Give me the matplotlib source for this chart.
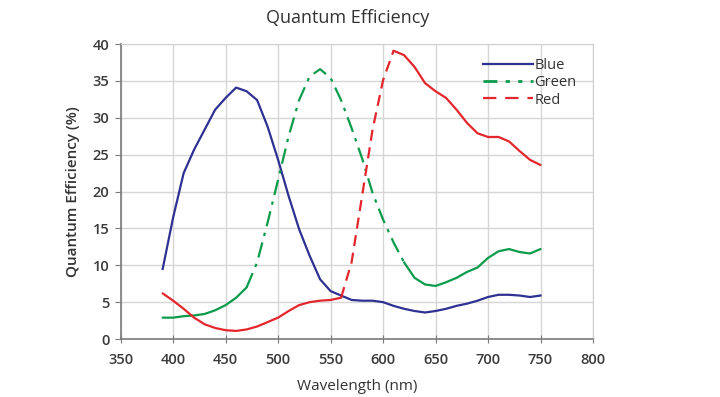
import matplotlib
matplotlib.use('Agg')
import matplotlib.pyplot as plt
from matplotlib.lines import Line2D
import numpy as np

plt.rcParams['font.family'] = ['Open Sans', 'DejaVu Sans']

# Wavelength sample points (nm)
wavelength = np.arange(390, 751, 10)

# Quantum efficiency (%)
blue = [9.5, 16.5, 22.5, 25.7, 28.4, 31.1, 32.7, 34.1, 33.6, 32.4,
        28.8, 24.3, 19.4, 14.9, 11.3, 8.1, 6.5, 5.9, 5.3, 5.2,
        5.2, 5.0, 4.5, 4.1, 3.8, 3.6, 3.8, 4.1, 4.5, 4.8,
        5.2, 5.7, 6.0, 6.0, 5.9, 5.7, 5.9]
green = [2.9, 2.9, 3.1, 3.2, 3.4, 3.9, 4.6, 5.6, 7.0, 10.4,
         15.8, 21.6, 27.5, 32.4, 35.6, 36.6, 35.4, 32.4, 28.6, 24.5,
         19.8, 16.2, 13.1, 10.4, 8.3, 7.4, 7.2, 7.7, 8.3, 9.1,
         9.7, 11.0, 11.9, 12.2, 11.8, 11.6, 12.2]
red = [6.2, 5.2, 4.1, 2.9, 2.0, 1.5, 1.2, 1.1, 1.3, 1.7,
       2.3, 2.9, 3.8, 4.6, 5.0, 5.2, 5.3, 5.6, 10.4, 19.4,
       28.4, 35.1, 39.1, 38.5, 36.9, 34.7, 33.6, 32.7, 31.1, 29.3,
       27.9, 27.4, 27.4, 26.8, 25.5, 24.3, 23.6]

# where the hand-drawn curves switch between solid and broken strokes
green_broken = (470, 620)
red_broken = (560, 610)

c_blue = '#2E3192'
c_green = '#0A9B4B'
c_red = '#E3262C'
dashdot = (0, (7, 3, 1.5, 3))
dashed = (0, (5, 3))
lw = 1.6

fig = plt.figure(figsize=(7.2, 3.97), dpi=100)
ax = fig.add_axes([0.1676, 0.146, 0.656, 0.743])

wl = np.array(wavelength)


def plot_split(values, color, brk, style):
    v = np.array(values)
    lo, hi = brk
    m1 = wl <= lo
    m2 = (wl >= lo) & (wl <= hi)
    m3 = wl >= hi
    ax.plot(wl[m1], v[m1], color=color, lw=lw, solid_capstyle='round', solid_joinstyle='round')
    ax.plot(wl[m2], v[m2], color=color, lw=lw, linestyle=style)
    ax.plot(wl[m3], v[m3], color=color, lw=lw, solid_capstyle='round', solid_joinstyle='round')


ax.plot(wl, blue, color=c_blue, lw=lw, solid_joinstyle='round')
plot_split(green, c_green, green_broken, dashdot)
plot_split(red, c_red, red_broken, dashed)

ax.set_xlim(350, 800)
ax.set_ylim(0, 40)
ax.set_xticks(np.arange(350, 801, 50))
ax.set_yticks(np.arange(0, 41, 5))
ax.grid(True, color='#D6D6D6', linewidth=1.0)
ax.set_axisbelow(True)

for side in ['top', 'right']:
    ax.spines[side].set_color('#D0D0D0')
for side in ['left', 'bottom']:
    ax.spines[side].set_color('#7A7A7A')
    ax.spines[side].set_linewidth(1.2)

ax.tick_params(axis='y', direction='out', length=4, color='#7A7A7A',
               labelsize=10.5, labelcolor='#3A3A3A', pad=4)
ax.tick_params(axis='x', direction='inout', length=6, color='#7A7A7A',
               labelsize=10.5, labelcolor='#3A3A3A', pad=7)
for lab in ax.get_xticklabels() + ax.get_yticklabels():
    lab.set_fontweight('semibold')

ax.set_xlabel('Wavelength (nm)', fontsize=11, color='#333333', labelpad=9)
ax.set_ylabel('Quantum Efficiency (%)', fontsize=11, color='#333333',
              fontweight='semibold', labelpad=9)
fig.text(0.483, 0.955, 'Quantum Efficiency', ha='center', va='center',
         fontsize=13, color='#333333')

handles = [
    Line2D([], [], color=c_blue, lw=lw),
    Line2D([], [], color=c_green, lw=lw + 0.4, linestyle=(0, (5, 3, 1.5, 3, 1.5, 3))),
    Line2D([], [], color=c_red, lw=lw, linestyle=(0, (6, 4))),
]
leg = ax.legend(handles, ['Blue', 'Green', 'Red'], loc='upper left',
                bbox_to_anchor=(0.755, 0.972), frameon=False,
                handlelength=3.4, handletextpad=0.1, labelspacing=0.15,
                fontsize=10.5, borderaxespad=0)
for t in leg.get_texts():
    t.set_color('#333333')

fig.savefig('out.png', dpi=100, facecolor='white')
